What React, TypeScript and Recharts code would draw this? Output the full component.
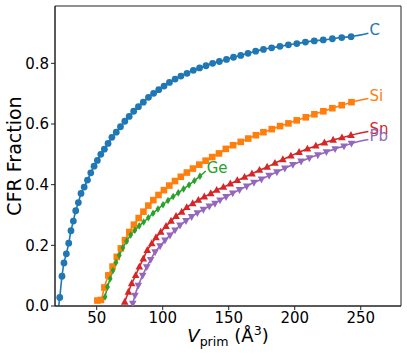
import { ComposedChart, Line, XAxis, YAxis, ReferenceArea } from "recharts";

// primitive-cell volume (Å^3) and CFR fraction, per element
const volumeC = [
  22.0, 23.7, 25.2, 27.0, 28.8, 30.5, 32.3, 34.1, 36.1, 38.1, 40.5, 43.0, 45.5, 48.0, 50.5, 53.1,
  55.8, 58.6, 61.5, 64.8, 68.0, 71.3, 74.6, 78.0, 81.6, 85.3, 89.2, 93.1, 97.0, 101.0, 105.1,
  109.4, 113.8, 118.4, 123.2, 127.9, 132.8, 137.8, 142.9, 148.3, 153.6, 159.1, 164.6, 170.4,
  176.3, 182.5, 188.8, 195.2, 201.6, 208.1, 214.8, 221.6, 228.5, 235.6, 242.7,
];
const fractionC = [
  0.028, 0.098, 0.142, 0.172, 0.207, 0.248, 0.28, 0.314, 0.341, 0.371, 0.392, 0.415, 0.439, 0.461,
  0.48, 0.5, 0.517, 0.536, 0.556, 0.573, 0.591, 0.609, 0.625, 0.642, 0.657, 0.672, 0.688, 0.701,
  0.713, 0.725, 0.737, 0.748, 0.758, 0.767, 0.777, 0.785, 0.792, 0.8, 0.806, 0.813, 0.82, 0.826,
  0.833, 0.84, 0.846, 0.851, 0.856, 0.861, 0.865, 0.87, 0.874, 0.877, 0.881, 0.885, 0.888,
];

const volumeSi = [
  50.5, 53.2, 55.8, 58.8, 62.0, 65.2, 68.3, 71.4, 74.7, 78.2, 81.8, 85.4, 89.1, 92.9, 96.8, 100.9,
  105.0, 109.3, 113.7, 118.3, 122.9, 127.7, 132.5, 137.5, 142.6, 147.8, 153.3, 159.1, 164.8,
  170.6, 176.3, 182.6, 188.9, 195.2, 201.5, 208.4, 214.9, 221.7, 228.5, 235.6, 243.0,
];
const fractionSi = [
  0.018, 0.02, 0.061, 0.101, 0.13, 0.162, 0.19, 0.217, 0.244, 0.268, 0.29, 0.311, 0.331, 0.349,
  0.366, 0.382, 0.397, 0.412, 0.426, 0.44, 0.453, 0.466, 0.479, 0.491, 0.503, 0.518, 0.53, 0.541,
  0.552, 0.563, 0.573, 0.583, 0.593, 0.602, 0.612, 0.622, 0.632, 0.642, 0.652, 0.662, 0.672,
];

const volumeGe = [
  56.3, 58.2, 60.2, 62.3, 64.6, 67.1, 69.8, 72.7, 75.7, 78.9, 82.2, 85.6, 89.1, 92.7, 96.4, 100.2,
  104.0, 107.9, 111.8, 115.8, 119.9, 124.0, 128.2,
];
const fractionGe = [
  0.03, 0.063, 0.09, 0.117, 0.143, 0.167, 0.192, 0.214, 0.234, 0.25, 0.264, 0.277, 0.291, 0.306,
  0.32, 0.334, 0.348, 0.361, 0.373, 0.386, 0.399, 0.413, 0.428,
];

const volumeSn = [
  71.2, 74.0, 76.5, 79.5, 82.3, 85.3, 88.3, 91.7, 94.9, 98.5, 102.5, 106.3, 110.1, 114.4, 118.2,
  122.7, 127.0, 131.5, 136.4, 140.9, 146.0, 151.2, 156.5, 162.0, 167.6, 173.3, 179.1, 185.0,
  191.0, 197.1, 203.3, 209.6, 216.0, 222.5, 229.1, 235.8, 242.6,
];
const fractionSn = [
  0.013, 0.046, 0.074, 0.101, 0.129, 0.156, 0.184, 0.206, 0.226, 0.244, 0.263, 0.28, 0.296, 0.31,
  0.325, 0.338, 0.349, 0.36, 0.371, 0.382, 0.392, 0.403, 0.414, 0.425, 0.436, 0.448, 0.458, 0.471,
  0.483, 0.495, 0.507, 0.518, 0.528, 0.538, 0.547, 0.555, 0.563,
];

const volumePb = [
  77.3, 79.0, 81.5, 84.8, 87.9, 90.9, 94.2, 98.0, 101.7, 105.5, 109.3, 113.1, 117.6, 121.9, 126.2,
  130.8, 135.3, 139.6, 143.4, 148.0, 153.0, 158.2, 163.6, 169.1, 174.8, 180.6, 186.5, 192.5,
  198.6, 204.8, 211.1, 217.5, 224.0, 230.6, 237.3, 243.0,
];
const fractionPb = [
  0.008, 0.035, 0.068, 0.101, 0.129, 0.153, 0.178, 0.198, 0.217, 0.233, 0.25, 0.266, 0.281, 0.294,
  0.307, 0.318, 0.329, 0.338, 0.349, 0.36, 0.372, 0.383, 0.395, 0.407, 0.418, 0.43, 0.442, 0.454,
  0.466, 0.477, 0.488, 0.498, 0.508, 0.518, 0.527, 0.536,
];

// where each fitted curve begins / ends (label sits at the end)
const fitStartC = [21.2, 0.0];
const fitEndC = [255.8, 0.899];
const fitEndSi = [255.8, 0.684];
const fitEndGe = [132.6, 0.445];
const fitEndSn = [255.8, 0.575];
const fitEndPb = [255.8, 0.549];

const xTicks = [50, 100, 150, 200, 250];
const yTicks = [0, 0.2, 0.4, 0.6, 0.8];

const FONT = "DejaVu Sans";

type Pt = { x: number; y: number; kind: string };

const buildSeries = (xs: number[], ys: number[], end: number[], start?: number[]): Pt[] => [
  ...(start ? [{ x: start[0], y: start[1], kind: "fit" }] : []),
  ...xs.map((x, i) => ({ x, y: ys[i], kind: "data" })),
  { x: end[0], y: end[1], kind: "end" },
];

const series = [
  { name: "C", color: "#1f77b4", marker: "o", data: buildSeries(volumeC, fractionC, fitEndC, fitStartC) },
  { name: "Si", color: "#ff7f0e", marker: "s", data: buildSeries(volumeSi, fractionSi, fitEndSi) },
  { name: "Ge", color: "#2ca02c", marker: "d", data: buildSeries(volumeGe, fractionGe, fitEndGe) },
  { name: "Sn", color: "#d62728", marker: "^", data: buildSeries(volumeSn, fractionSn, fitEndSn) },
  { name: "Pb", color: "#9467bd", marker: "v", data: buildSeries(volumePb, fractionPb, fitEndPb) },
];

const makeDot = (marker: string, color: string, label: string) => (props: any) => {
  const { cx, cy, payload, index } = props;
  if (payload.kind === "end") {
    return (
      <text key={index} x={cx + 1} y={cy + 2} fill={color} fontSize={15} fontFamily={FONT}>
        {label}
      </text>
    );
  }
  if (payload.kind !== "data") return <g key={index} />;
  if (marker === "o") return <circle key={index} cx={cx} cy={cy} r={3.4} fill={color} />;
  if (marker === "s")
    return <rect key={index} x={cx - 3.3} y={cy - 3.3} width={6.6} height={6.6} fill={color} />;
  if (marker === "d")
    return (
      <polygon
        key={index}
        points={`${cx},${cy - 3.8} ${cx + 2.4},${cy} ${cx},${cy + 3.8} ${cx - 2.4},${cy}`}
        fill={color}
      />
    );
  if (marker === "^")
    return (
      <polygon
        key={index}
        points={`${cx},${cy - 4.2} ${cx + 3.8},${cy + 2.7} ${cx - 3.8},${cy + 2.7}`}
        fill={color}
      />
    );
  return (
    <polygon
      key={index}
      points={`${cx},${cy + 4.2} ${cx + 3.8},${cy - 2.7} ${cx - 3.8},${cy - 2.7}`}
      fill={color}
    />
  );
};

const XLabel = (props: any) => {
  const { x, width, y } = props.viewBox;
  return (
    <text x={x + width / 2} y={y + 36} textAnchor="middle" fontSize={18} fontFamily={FONT} fill="#000">
      <tspan fontStyle="italic">V</tspan>
      <tspan fontSize={12.6} dy={4}>prim</tspan>
      <tspan dy={-4}> (Å</tspan>
      <tspan fontSize={12.6} dy={-7}>3</tspan>
      <tspan dy={7}>)</tspan>
    </text>
  );
};

const YLabel = (props: any) => {
  const { y, height } = props.viewBox;
  const cy = y + height / 2;
  return (
    <text
      x={14}
      y={cy}
      transform={`rotate(-90 14 ${cy})`}
      textAnchor="middle"
      dominantBaseline="central"
      fontSize={19}
      fontFamily={FONT}
      fill="#000"
    >
      CFR Fraction
    </text>
  );
};

export default function App() {
  const tickStyle = { fontSize: 15, fill: "#000", fontFamily: FONT };
  return (
    <div style={{ position: "absolute", left: 0, top: 0, background: "#fff" }}>
      <ComposedChart width={407} height={358} margin={{ top: 6, right: 6, bottom: 0, left: 0 }}>
        <XAxis
          type="number"
          dataKey="x"
          domain={[18.4, 280.5]}
          ticks={xTicks}
          allowDataOverflow
          height={52}
          tick={tickStyle}
          tickSize={4}
          axisLine={{ stroke: "#222" }}
          tickLine={{ stroke: "#222" }}
          label={<XLabel />}
        />
        <YAxis
          type="number"
          dataKey="y"
          domain={[0, 0.989]}
          ticks={yTicks}
          allowDataOverflow
          width={55}
          tick={tickStyle}
          tickSize={4}
          tickFormatter={(v: number) => v.toFixed(1)}
          axisLine={{ stroke: "#222" }}
          tickLine={{ stroke: "#222" }}
          label={<YLabel />}
        />
        <ReferenceArea x1={18.4} x2={280.5} y1={0} y2={0.989} fill="none" stroke="#222" strokeWidth={1} />
        {series.map((s) => (
          <Line
            key={s.name}
            data={s.data}
            dataKey="y"
            type="monotone"
            stroke={s.color}
            strokeWidth={1.6}
            dot={makeDot(s.marker, s.color, s.name)}
            activeDot={false}
            isAnimationActive={false}
          />
        ))}
      </ComposedChart>
    </div>
  );
}
